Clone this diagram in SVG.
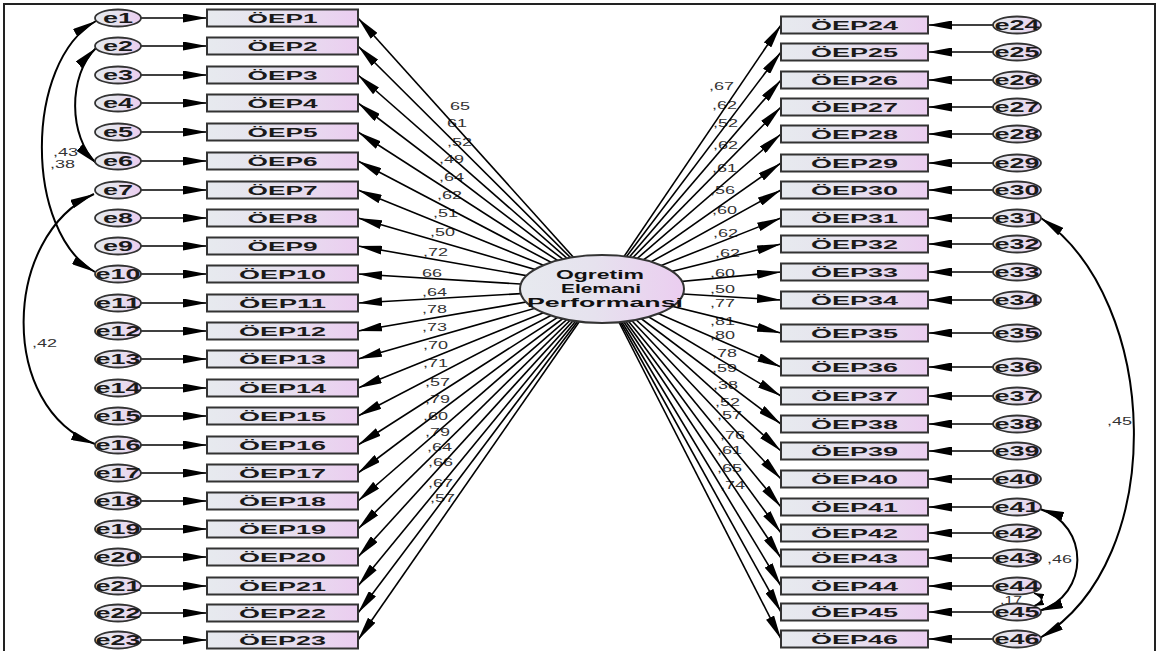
<svg xmlns="http://www.w3.org/2000/svg" width="1159" height="651" viewBox="0 0 1159 651">
  <defs>
    <linearGradient id="gFill" x1="0" y1="0" x2="1" y2="0">
      <stop offset="0" stop-color="#e7eaef"/>
      <stop offset="0.45" stop-color="#e6e2ee"/>
      <stop offset="1" stop-color="#ebcdf0"/>
    </linearGradient>
    <marker id="ah" viewBox="0 0 24 9" refX="24" refY="4.5" markerWidth="24" markerHeight="9" markerUnits="userSpaceOnUse" orient="auto-start-reverse">
      <path d="M0,0 L24,4.5 L0,9 z" fill="#000"/>
    </marker>
    <marker id="ahs" viewBox="0 0 10 6" refX="10" refY="3" markerWidth="10" markerHeight="6" markerUnits="userSpaceOnUse" orient="auto-start-reverse">
      <path d="M0,0 L10,3 L0,6 z" fill="#000"/>
    </marker>
  </defs>
  <style>
    .box { fill: url(#gFill); stroke: #333; stroke-width: 2; }
    .err { fill: url(#gFill); stroke: #333; stroke-width: 1.8; }
    .lat { fill: url(#gFill); stroke: #333; stroke-width: 2; }
    .bt { font-family: "Liberation Sans", Arial, sans-serif; font-weight: bold; font-size: 13px; fill: #1a1a1a; text-anchor: middle; }
    .et { font-family: "Liberation Sans", Arial, sans-serif; font-weight: bold; font-size: 14px; fill: #1a1a1a; text-anchor: middle; }
    .lt { font-family: "Liberation Sans", Arial, sans-serif; font-weight: bold; font-size: 12.5px; fill: #111; text-anchor: middle; }
    .lb { font-family: "Liberation Sans", Arial, sans-serif; font-size: 10px; fill: #333; }
    .ln { stroke: #000; stroke-width: 1.6; fill: none; marker-end: url(#ah); }
    .cv { stroke: #000; stroke-width: 2; fill: none; marker-start: url(#ah); marker-end: url(#ah); }
    .cvs { stroke: #000; stroke-width: 1.6; fill: none; marker-start: url(#ahs); marker-end: url(#ahs); }
  </style>

  <rect x="0" y="0" width="1159" height="651" fill="#fff"/>
  <rect x="4" y="4" width="1151" height="680" fill="none" stroke="#222" stroke-width="2"/>

  <!-- path coefficients and covariances -->
  <g id="labels" class="lb">
    <text x="450" y="109.5" textLength="20" lengthAdjust="spacingAndGlyphs">65</text>
    <text x="447" y="126.5" textLength="20" lengthAdjust="spacingAndGlyphs">61</text>
    <text x="447" y="145.5" textLength="25" lengthAdjust="spacingAndGlyphs">,52</text>
    <text x="439" y="162.5" textLength="25" lengthAdjust="spacingAndGlyphs">,49</text>
    <text x="439" y="180.5" textLength="25" lengthAdjust="spacingAndGlyphs">,64</text>
    <text x="437" y="198.5" textLength="25" lengthAdjust="spacingAndGlyphs">,62</text>
    <text x="433" y="216.5" textLength="25" lengthAdjust="spacingAndGlyphs">,51</text>
    <text x="430" y="235.5" textLength="25" lengthAdjust="spacingAndGlyphs">,50</text>
    <text x="423" y="255.5" textLength="25" lengthAdjust="spacingAndGlyphs">,72</text>
    <text x="422" y="276.5" textLength="20" lengthAdjust="spacingAndGlyphs">66</text>
    <text x="422" y="295.5" textLength="25" lengthAdjust="spacingAndGlyphs">,64</text>
    <text x="422" y="312.5" textLength="25" lengthAdjust="spacingAndGlyphs">,78</text>
    <text x="422" y="330.5" textLength="25" lengthAdjust="spacingAndGlyphs">,73</text>
    <text x="423" y="348.5" textLength="25" lengthAdjust="spacingAndGlyphs">,70</text>
    <text x="423" y="366.5" textLength="25" lengthAdjust="spacingAndGlyphs">,71</text>
    <text x="425" y="385.5" textLength="25" lengthAdjust="spacingAndGlyphs">,57</text>
    <text x="425" y="402.5" textLength="25" lengthAdjust="spacingAndGlyphs">,79</text>
    <text x="423" y="419.5" textLength="25" lengthAdjust="spacingAndGlyphs">,60</text>
    <text x="425" y="435.5" textLength="25" lengthAdjust="spacingAndGlyphs">,79</text>
    <text x="427" y="450.5" textLength="25" lengthAdjust="spacingAndGlyphs">,64</text>
    <text x="428" y="465.5" textLength="25" lengthAdjust="spacingAndGlyphs">,66</text>
    <text x="428" y="486.5" textLength="25" lengthAdjust="spacingAndGlyphs">,67</text>
    <text x="430" y="501.5" textLength="25" lengthAdjust="spacingAndGlyphs">,57</text>

    <text x="709" y="89.5" textLength="25" lengthAdjust="spacingAndGlyphs">,67</text>
    <text x="712" y="108.5" textLength="25" lengthAdjust="spacingAndGlyphs">,62</text>
    <text x="713" y="126.5" textLength="25" lengthAdjust="spacingAndGlyphs">,52</text>
    <text x="713" y="148.5" textLength="25" lengthAdjust="spacingAndGlyphs">,62</text>
    <text x="712" y="171.5" textLength="25" lengthAdjust="spacingAndGlyphs">,61</text>
    <text x="710" y="193.5" textLength="25" lengthAdjust="spacingAndGlyphs">,56</text>
    <text x="712" y="213.5" textLength="25" lengthAdjust="spacingAndGlyphs">,60</text>
    <text x="713" y="236.5" textLength="25" lengthAdjust="spacingAndGlyphs">,62</text>
    <text x="715" y="256.5" textLength="25" lengthAdjust="spacingAndGlyphs">,62</text>
    <text x="710" y="276.5" textLength="25" lengthAdjust="spacingAndGlyphs">,60</text>
    <text x="710" y="292.5" textLength="25" lengthAdjust="spacingAndGlyphs">,50</text>
    <text x="710" y="306.5" textLength="25" lengthAdjust="spacingAndGlyphs">,77</text>
    <text x="710" y="324.5" textLength="25" lengthAdjust="spacingAndGlyphs">,81</text>
    <text x="710" y="338.5" textLength="25" lengthAdjust="spacingAndGlyphs">,80</text>
    <text x="712" y="356.5" textLength="25" lengthAdjust="spacingAndGlyphs">,78</text>
    <text x="712" y="371.5" textLength="25" lengthAdjust="spacingAndGlyphs">,59</text>
    <text x="713" y="388.5" textLength="25" lengthAdjust="spacingAndGlyphs">,38</text>
    <text x="715" y="405.5" textLength="25" lengthAdjust="spacingAndGlyphs">,52</text>
    <text x="717" y="418.5" textLength="25" lengthAdjust="spacingAndGlyphs">,57</text>
    <text x="720" y="438.5" textLength="25" lengthAdjust="spacingAndGlyphs">,76</text>
    <text x="717" y="453.5" textLength="25" lengthAdjust="spacingAndGlyphs">,61</text>
    <text x="717" y="471.5" textLength="25" lengthAdjust="spacingAndGlyphs">,65</text>
    <text x="720" y="488.5" textLength="25" lengthAdjust="spacingAndGlyphs">,74</text>

    <text x="53" y="155.5" textLength="25" lengthAdjust="spacingAndGlyphs">,43</text>
    <text x="50" y="167.5" textLength="25" lengthAdjust="spacingAndGlyphs">,38</text>
    <text x="32" y="346.5" textLength="25" lengthAdjust="spacingAndGlyphs">,42</text>
    <text x="1107" y="424.5" textLength="25" lengthAdjust="spacingAndGlyphs">,45</text>
    <text x="1047" y="562.5" textLength="25" lengthAdjust="spacingAndGlyphs">,46</text>
    <text x="1000" y="603.5" textLength="22" lengthAdjust="spacingAndGlyphs">,17</text>
  </g>

  <g id="connectors">
    <!-- factor loadings, left column -->
    <g class="ln">
      <line x1="602" y1="289" x2="358" y2="18"/>
      <line x1="602" y1="289" x2="358" y2="46"/>
      <line x1="602" y1="289" x2="358" y2="75"/>
      <line x1="602" y1="289" x2="358" y2="103"/>
      <line x1="602" y1="289" x2="358" y2="132"/>
      <line x1="602" y1="289" x2="358" y2="161"/>
      <line x1="602" y1="289" x2="358" y2="190"/>
      <line x1="602" y1="289" x2="358" y2="218"/>
      <line x1="602" y1="289" x2="358" y2="246"/>
      <line x1="602" y1="289" x2="358" y2="274"/>
      <line x1="602" y1="289" x2="358" y2="303"/>
      <line x1="602" y1="289" x2="358" y2="331"/>
      <line x1="602" y1="289" x2="358" y2="359"/>
      <line x1="602" y1="289" x2="358" y2="388"/>
      <line x1="602" y1="289" x2="358" y2="416"/>
      <line x1="602" y1="289" x2="358" y2="445"/>
      <line x1="602" y1="289" x2="358" y2="473"/>
      <line x1="602" y1="289" x2="358" y2="501"/>
      <line x1="602" y1="289" x2="358" y2="529"/>
      <line x1="602" y1="289" x2="358" y2="557"/>
      <line x1="602" y1="289" x2="358" y2="586"/>
      <line x1="602" y1="289" x2="358" y2="613"/>
      <line x1="602" y1="289" x2="358" y2="640"/>
      <!-- factor loadings, right column -->
      <line x1="602" y1="289" x2="781" y2="25"/>
      <line x1="602" y1="289" x2="781" y2="52"/>
      <line x1="602" y1="289" x2="781" y2="80"/>
      <line x1="602" y1="289" x2="781" y2="107"/>
      <line x1="602" y1="289" x2="781" y2="134"/>
      <line x1="602" y1="289" x2="781" y2="163"/>
      <line x1="602" y1="289" x2="781" y2="190"/>
      <line x1="602" y1="289" x2="781" y2="218"/>
      <line x1="602" y1="289" x2="781" y2="244"/>
      <line x1="602" y1="289" x2="781" y2="272"/>
      <line x1="602" y1="289" x2="781" y2="300"/>
      <line x1="602" y1="289" x2="781" y2="333"/>
      <line x1="602" y1="289" x2="781" y2="367"/>
      <line x1="602" y1="289" x2="781" y2="396"/>
      <line x1="602" y1="289" x2="781" y2="424"/>
      <line x1="602" y1="289" x2="781" y2="451"/>
      <line x1="602" y1="289" x2="781" y2="479"/>
      <line x1="602" y1="289" x2="781" y2="507"/>
      <line x1="602" y1="289" x2="781" y2="533"/>
      <line x1="602" y1="289" x2="781" y2="558"/>
      <line x1="602" y1="289" x2="781" y2="586"/>
      <line x1="602" y1="289" x2="781" y2="612"/>
      <line x1="602" y1="289" x2="781" y2="639"/>
      <!-- error terms, left -->
      <line x1="141" y1="18" x2="207" y2="18"/>
      <line x1="141" y1="46" x2="207" y2="46"/>
      <line x1="141" y1="75" x2="207" y2="75"/>
      <line x1="141" y1="103" x2="207" y2="103"/>
      <line x1="141" y1="132" x2="207" y2="132"/>
      <line x1="141" y1="161" x2="207" y2="161"/>
      <line x1="141" y1="190" x2="207" y2="190"/>
      <line x1="141" y1="218" x2="207" y2="218"/>
      <line x1="141" y1="246" x2="207" y2="246"/>
      <line x1="141" y1="274" x2="207" y2="274"/>
      <line x1="141" y1="303" x2="207" y2="303"/>
      <line x1="141" y1="331" x2="207" y2="331"/>
      <line x1="141" y1="359" x2="207" y2="359"/>
      <line x1="141" y1="388" x2="207" y2="388"/>
      <line x1="141" y1="416" x2="207" y2="416"/>
      <line x1="141" y1="445" x2="207" y2="445"/>
      <line x1="141" y1="473" x2="207" y2="473"/>
      <line x1="141" y1="501" x2="207" y2="501"/>
      <line x1="141" y1="529" x2="207" y2="529"/>
      <line x1="141" y1="557" x2="207" y2="557"/>
      <line x1="141" y1="586" x2="207" y2="586"/>
      <line x1="141" y1="613" x2="207" y2="613"/>
      <line x1="141" y1="640" x2="207" y2="640"/>
      <!-- error terms, right -->
      <line x1="994" y1="25" x2="928" y2="25"/>
      <line x1="994" y1="52" x2="928" y2="52"/>
      <line x1="994" y1="80" x2="928" y2="80"/>
      <line x1="994" y1="107" x2="928" y2="107"/>
      <line x1="994" y1="134" x2="928" y2="134"/>
      <line x1="994" y1="163" x2="928" y2="163"/>
      <line x1="994" y1="190" x2="928" y2="190"/>
      <line x1="994" y1="218" x2="928" y2="218"/>
      <line x1="994" y1="244" x2="928" y2="244"/>
      <line x1="994" y1="272" x2="928" y2="272"/>
      <line x1="994" y1="300" x2="928" y2="300"/>
      <line x1="994" y1="333" x2="928" y2="333"/>
      <line x1="994" y1="367" x2="928" y2="367"/>
      <line x1="994" y1="396" x2="928" y2="396"/>
      <line x1="994" y1="424" x2="928" y2="424"/>
      <line x1="994" y1="451" x2="928" y2="451"/>
      <line x1="994" y1="479" x2="928" y2="479"/>
      <line x1="994" y1="507" x2="928" y2="507"/>
      <line x1="994" y1="533" x2="928" y2="533"/>
      <line x1="994" y1="558" x2="928" y2="558"/>
      <line x1="994" y1="586" x2="928" y2="586"/>
      <line x1="994" y1="612" x2="928" y2="612"/>
      <line x1="994" y1="639" x2="928" y2="639"/>
    </g>
    <!-- error covariances -->
    <path class="cv" d="M96,21 C24,62 24,232 95,272"/>
    <path class="cv" d="M96,48 C68,75 68,137 97,164"/>
    <path class="cv" d="M94,194 C2,236 -2,408 95,444"/>
    <path class="cv" d="M1041,218 C1160,300 1170,560 1040,638"/>
    <path class="cv" d="M1040,509 C1090,525 1090,595 1039,611"/>
    <path class="cvs" d="M1034,593 C1044,597 1044,602 1034,606"/>
  </g>

  <!-- latent factor -->
  <g id="OgretimElemaniPerformansi">
    <ellipse class="lat" cx="602" cy="289" rx="82" ry="34"/>
    <text class="lt" x="600" y="279" textLength="88" lengthAdjust="spacingAndGlyphs">Ogretim</text>
    <text class="lt" x="601" y="293" textLength="80" lengthAdjust="spacingAndGlyphs">Elemani</text>
    <text class="lt" x="605" y="307" textLength="156" lengthAdjust="spacingAndGlyphs">Performansi</text>
  </g>

  <!-- observed items, left column -->
  <g id="OEP1"><rect class="box" x="207" y="9.5" width="151" height="17"/><text class="bt" x="282.5" y="22.5" textLength="70" lengthAdjust="spacingAndGlyphs">ÖEP1</text></g>
  <g id="OEP2"><rect class="box" x="207" y="37.5" width="151" height="17"/><text class="bt" x="282.5" y="50.5" textLength="70" lengthAdjust="spacingAndGlyphs">ÖEP2</text></g>
  <g id="OEP3"><rect class="box" x="207" y="66.5" width="151" height="17"/><text class="bt" x="282.5" y="79.5" textLength="70" lengthAdjust="spacingAndGlyphs">ÖEP3</text></g>
  <g id="OEP4"><rect class="box" x="207" y="94.5" width="151" height="17"/><text class="bt" x="282.5" y="107.5" textLength="70" lengthAdjust="spacingAndGlyphs">ÖEP4</text></g>
  <g id="OEP5"><rect class="box" x="207" y="123.5" width="151" height="17"/><text class="bt" x="282.5" y="136.5" textLength="70" lengthAdjust="spacingAndGlyphs">ÖEP5</text></g>
  <g id="OEP6"><rect class="box" x="207" y="152.5" width="151" height="17"/><text class="bt" x="282.5" y="165.5" textLength="70" lengthAdjust="spacingAndGlyphs">ÖEP6</text></g>
  <g id="OEP7"><rect class="box" x="207" y="181.5" width="151" height="17"/><text class="bt" x="282.5" y="194.5" textLength="70" lengthAdjust="spacingAndGlyphs">ÖEP7</text></g>
  <g id="OEP8"><rect class="box" x="207" y="209.5" width="151" height="17"/><text class="bt" x="282.5" y="222.5" textLength="70" lengthAdjust="spacingAndGlyphs">ÖEP8</text></g>
  <g id="OEP9"><rect class="box" x="207" y="237.5" width="151" height="17"/><text class="bt" x="282.5" y="250.5" textLength="70" lengthAdjust="spacingAndGlyphs">ÖEP9</text></g>
  <g id="OEP10"><rect class="box" x="207" y="265.5" width="151" height="17"/><text class="bt" x="282.5" y="278.5" textLength="87" lengthAdjust="spacingAndGlyphs">ÖEP10</text></g>
  <g id="OEP11"><rect class="box" x="207" y="294.5" width="151" height="17"/><text class="bt" x="282.5" y="307.5" textLength="87" lengthAdjust="spacingAndGlyphs">ÖEP11</text></g>
  <g id="OEP12"><rect class="box" x="207" y="322.5" width="151" height="17"/><text class="bt" x="282.5" y="335.5" textLength="87" lengthAdjust="spacingAndGlyphs">ÖEP12</text></g>
  <g id="OEP13"><rect class="box" x="207" y="350.5" width="151" height="17"/><text class="bt" x="282.5" y="363.5" textLength="87" lengthAdjust="spacingAndGlyphs">ÖEP13</text></g>
  <g id="OEP14"><rect class="box" x="207" y="379.5" width="151" height="17"/><text class="bt" x="282.5" y="392.5" textLength="87" lengthAdjust="spacingAndGlyphs">ÖEP14</text></g>
  <g id="OEP15"><rect class="box" x="207" y="407.5" width="151" height="17"/><text class="bt" x="282.5" y="420.5" textLength="87" lengthAdjust="spacingAndGlyphs">ÖEP15</text></g>
  <g id="OEP16"><rect class="box" x="207" y="436.5" width="151" height="17"/><text class="bt" x="282.5" y="449.5" textLength="87" lengthAdjust="spacingAndGlyphs">ÖEP16</text></g>
  <g id="OEP17"><rect class="box" x="207" y="464.5" width="151" height="17"/><text class="bt" x="282.5" y="477.5" textLength="87" lengthAdjust="spacingAndGlyphs">ÖEP17</text></g>
  <g id="OEP18"><rect class="box" x="207" y="492.5" width="151" height="17"/><text class="bt" x="282.5" y="505.5" textLength="87" lengthAdjust="spacingAndGlyphs">ÖEP18</text></g>
  <g id="OEP19"><rect class="box" x="207" y="520.5" width="151" height="17"/><text class="bt" x="282.5" y="533.5" textLength="87" lengthAdjust="spacingAndGlyphs">ÖEP19</text></g>
  <g id="OEP20"><rect class="box" x="207" y="548.5" width="151" height="17"/><text class="bt" x="282.5" y="561.5" textLength="87" lengthAdjust="spacingAndGlyphs">ÖEP20</text></g>
  <g id="OEP21"><rect class="box" x="207" y="577.5" width="151" height="17"/><text class="bt" x="282.5" y="590.5" textLength="87" lengthAdjust="spacingAndGlyphs">ÖEP21</text></g>
  <g id="OEP22"><rect class="box" x="207" y="604.5" width="151" height="17"/><text class="bt" x="282.5" y="617.5" textLength="87" lengthAdjust="spacingAndGlyphs">ÖEP22</text></g>
  <g id="OEP23"><rect class="box" x="207" y="631.5" width="151" height="17"/><text class="bt" x="282.5" y="644.5" textLength="87" lengthAdjust="spacingAndGlyphs">ÖEP23</text></g>

  <!-- observed items, right column -->
  <g id="OEP24"><rect class="box" x="781" y="16.5" width="147" height="17"/><text class="bt" x="854.5" y="29.5" textLength="87" lengthAdjust="spacingAndGlyphs">ÖEP24</text></g>
  <g id="OEP25"><rect class="box" x="781" y="43.5" width="147" height="17"/><text class="bt" x="854.5" y="56.5" textLength="87" lengthAdjust="spacingAndGlyphs">ÖEP25</text></g>
  <g id="OEP26"><rect class="box" x="781" y="71.5" width="147" height="17"/><text class="bt" x="854.5" y="84.5" textLength="87" lengthAdjust="spacingAndGlyphs">ÖEP26</text></g>
  <g id="OEP27"><rect class="box" x="781" y="98.5" width="147" height="17"/><text class="bt" x="854.5" y="111.5" textLength="87" lengthAdjust="spacingAndGlyphs">ÖEP27</text></g>
  <g id="OEP28"><rect class="box" x="781" y="125.5" width="147" height="17"/><text class="bt" x="854.5" y="138.5" textLength="87" lengthAdjust="spacingAndGlyphs">ÖEP28</text></g>
  <g id="OEP29"><rect class="box" x="781" y="154.5" width="147" height="17"/><text class="bt" x="854.5" y="167.5" textLength="87" lengthAdjust="spacingAndGlyphs">ÖEP29</text></g>
  <g id="OEP30"><rect class="box" x="781" y="181.5" width="147" height="17"/><text class="bt" x="854.5" y="194.5" textLength="87" lengthAdjust="spacingAndGlyphs">ÖEP30</text></g>
  <g id="OEP31"><rect class="box" x="781" y="209.5" width="147" height="17"/><text class="bt" x="854.5" y="222.5" textLength="87" lengthAdjust="spacingAndGlyphs">ÖEP31</text></g>
  <g id="OEP32"><rect class="box" x="781" y="235.5" width="147" height="17"/><text class="bt" x="854.5" y="248.5" textLength="87" lengthAdjust="spacingAndGlyphs">ÖEP32</text></g>
  <g id="OEP33"><rect class="box" x="781" y="263.5" width="147" height="17"/><text class="bt" x="854.5" y="276.5" textLength="87" lengthAdjust="spacingAndGlyphs">ÖEP33</text></g>
  <g id="OEP34"><rect class="box" x="781" y="291.5" width="147" height="17"/><text class="bt" x="854.5" y="304.5" textLength="87" lengthAdjust="spacingAndGlyphs">ÖEP34</text></g>
  <g id="OEP35"><rect class="box" x="781" y="324.5" width="147" height="17"/><text class="bt" x="854.5" y="337.5" textLength="87" lengthAdjust="spacingAndGlyphs">ÖEP35</text></g>
  <g id="OEP36"><rect class="box" x="781" y="358.5" width="147" height="17"/><text class="bt" x="854.5" y="371.5" textLength="87" lengthAdjust="spacingAndGlyphs">ÖEP36</text></g>
  <g id="OEP37"><rect class="box" x="781" y="387.5" width="147" height="17"/><text class="bt" x="854.5" y="400.5" textLength="87" lengthAdjust="spacingAndGlyphs">ÖEP37</text></g>
  <g id="OEP38"><rect class="box" x="781" y="415.5" width="147" height="17"/><text class="bt" x="854.5" y="428.5" textLength="87" lengthAdjust="spacingAndGlyphs">ÖEP38</text></g>
  <g id="OEP39"><rect class="box" x="781" y="442.5" width="147" height="17"/><text class="bt" x="854.5" y="455.5" textLength="87" lengthAdjust="spacingAndGlyphs">ÖEP39</text></g>
  <g id="OEP40"><rect class="box" x="781" y="470.5" width="147" height="17"/><text class="bt" x="854.5" y="483.5" textLength="87" lengthAdjust="spacingAndGlyphs">ÖEP40</text></g>
  <g id="OEP41"><rect class="box" x="781" y="498.5" width="147" height="17"/><text class="bt" x="854.5" y="511.5" textLength="87" lengthAdjust="spacingAndGlyphs">ÖEP41</text></g>
  <g id="OEP42"><rect class="box" x="781" y="524.5" width="147" height="17"/><text class="bt" x="854.5" y="537.5" textLength="87" lengthAdjust="spacingAndGlyphs">ÖEP42</text></g>
  <g id="OEP43"><rect class="box" x="781" y="549.5" width="147" height="17"/><text class="bt" x="854.5" y="562.5" textLength="87" lengthAdjust="spacingAndGlyphs">ÖEP43</text></g>
  <g id="OEP44"><rect class="box" x="781" y="577.5" width="147" height="17"/><text class="bt" x="854.5" y="590.5" textLength="87" lengthAdjust="spacingAndGlyphs">ÖEP44</text></g>
  <g id="OEP45"><rect class="box" x="781" y="603.5" width="147" height="17"/><text class="bt" x="854.5" y="616.5" textLength="87" lengthAdjust="spacingAndGlyphs">ÖEP45</text></g>
  <g id="OEP46"><rect class="box" x="781" y="630.5" width="147" height="17"/><text class="bt" x="854.5" y="643.5" textLength="87" lengthAdjust="spacingAndGlyphs">ÖEP46</text></g>

  <!-- error terms, left column -->
  <g id="e1"><ellipse class="err" cx="118" cy="18" rx="23" ry="8.5"/><text class="et" x="118" y="23" textLength="30" lengthAdjust="spacingAndGlyphs">e1</text></g>
  <g id="e2"><ellipse class="err" cx="118" cy="46" rx="23" ry="8.5"/><text class="et" x="118" y="51" textLength="30" lengthAdjust="spacingAndGlyphs">e2</text></g>
  <g id="e3"><ellipse class="err" cx="118" cy="75" rx="23" ry="8.5"/><text class="et" x="118" y="80" textLength="30" lengthAdjust="spacingAndGlyphs">e3</text></g>
  <g id="e4"><ellipse class="err" cx="118" cy="103" rx="23" ry="8.5"/><text class="et" x="118" y="108" textLength="30" lengthAdjust="spacingAndGlyphs">e4</text></g>
  <g id="e5"><ellipse class="err" cx="118" cy="132" rx="23" ry="8.5"/><text class="et" x="118" y="137" textLength="30" lengthAdjust="spacingAndGlyphs">e5</text></g>
  <g id="e6"><ellipse class="err" cx="118" cy="161" rx="23" ry="8.5"/><text class="et" x="118" y="166" textLength="30" lengthAdjust="spacingAndGlyphs">e6</text></g>
  <g id="e7"><ellipse class="err" cx="118" cy="190" rx="23" ry="8.5"/><text class="et" x="118" y="195" textLength="30" lengthAdjust="spacingAndGlyphs">e7</text></g>
  <g id="e8"><ellipse class="err" cx="118" cy="218" rx="23" ry="8.5"/><text class="et" x="118" y="223" textLength="30" lengthAdjust="spacingAndGlyphs">e8</text></g>
  <g id="e9"><ellipse class="err" cx="118" cy="246" rx="23" ry="8.5"/><text class="et" x="118" y="251" textLength="30" lengthAdjust="spacingAndGlyphs">e9</text></g>
  <g id="e10"><ellipse class="err" cx="118" cy="274" rx="23" ry="8.5"/><text class="et" x="118" y="279" textLength="45" lengthAdjust="spacingAndGlyphs">e10</text></g>
  <g id="e11"><ellipse class="err" cx="118" cy="303" rx="23" ry="8.5"/><text class="et" x="118" y="308" textLength="45" lengthAdjust="spacingAndGlyphs">e11</text></g>
  <g id="e12"><ellipse class="err" cx="118" cy="331" rx="23" ry="8.5"/><text class="et" x="118" y="336" textLength="45" lengthAdjust="spacingAndGlyphs">e12</text></g>
  <g id="e13"><ellipse class="err" cx="118" cy="359" rx="23" ry="8.5"/><text class="et" x="118" y="364" textLength="45" lengthAdjust="spacingAndGlyphs">e13</text></g>
  <g id="e14"><ellipse class="err" cx="118" cy="388" rx="23" ry="8.5"/><text class="et" x="118" y="393" textLength="45" lengthAdjust="spacingAndGlyphs">e14</text></g>
  <g id="e15"><ellipse class="err" cx="118" cy="416" rx="23" ry="8.5"/><text class="et" x="118" y="421" textLength="45" lengthAdjust="spacingAndGlyphs">e15</text></g>
  <g id="e16"><ellipse class="err" cx="118" cy="445" rx="23" ry="8.5"/><text class="et" x="118" y="450" textLength="45" lengthAdjust="spacingAndGlyphs">e16</text></g>
  <g id="e17"><ellipse class="err" cx="118" cy="473" rx="23" ry="8.5"/><text class="et" x="118" y="478" textLength="45" lengthAdjust="spacingAndGlyphs">e17</text></g>
  <g id="e18"><ellipse class="err" cx="118" cy="501" rx="23" ry="8.5"/><text class="et" x="118" y="506" textLength="45" lengthAdjust="spacingAndGlyphs">e18</text></g>
  <g id="e19"><ellipse class="err" cx="118" cy="529" rx="23" ry="8.5"/><text class="et" x="118" y="534" textLength="45" lengthAdjust="spacingAndGlyphs">e19</text></g>
  <g id="e20"><ellipse class="err" cx="118" cy="557" rx="23" ry="8.5"/><text class="et" x="118" y="562" textLength="45" lengthAdjust="spacingAndGlyphs">e20</text></g>
  <g id="e21"><ellipse class="err" cx="118" cy="586" rx="23" ry="8.5"/><text class="et" x="118" y="591" textLength="45" lengthAdjust="spacingAndGlyphs">e21</text></g>
  <g id="e22"><ellipse class="err" cx="118" cy="613" rx="23" ry="8.5"/><text class="et" x="118" y="618" textLength="45" lengthAdjust="spacingAndGlyphs">e22</text></g>
  <g id="e23"><ellipse class="err" cx="118" cy="640" rx="23" ry="8.5"/><text class="et" x="118" y="645" textLength="45" lengthAdjust="spacingAndGlyphs">e23</text></g>

  <!-- error terms, right column -->
  <g id="e24"><ellipse class="err" cx="1017" cy="25" rx="24" ry="8.5"/><text class="et" x="1017" y="30" textLength="45" lengthAdjust="spacingAndGlyphs">e24</text></g>
  <g id="e25"><ellipse class="err" cx="1017" cy="52" rx="24" ry="8.5"/><text class="et" x="1017" y="57" textLength="45" lengthAdjust="spacingAndGlyphs">e25</text></g>
  <g id="e26"><ellipse class="err" cx="1017" cy="80" rx="24" ry="8.5"/><text class="et" x="1017" y="85" textLength="45" lengthAdjust="spacingAndGlyphs">e26</text></g>
  <g id="e27"><ellipse class="err" cx="1017" cy="107" rx="24" ry="8.5"/><text class="et" x="1017" y="112" textLength="45" lengthAdjust="spacingAndGlyphs">e27</text></g>
  <g id="e28"><ellipse class="err" cx="1017" cy="134" rx="24" ry="8.5"/><text class="et" x="1017" y="139" textLength="45" lengthAdjust="spacingAndGlyphs">e28</text></g>
  <g id="e29"><ellipse class="err" cx="1017" cy="163" rx="24" ry="8.5"/><text class="et" x="1017" y="168" textLength="45" lengthAdjust="spacingAndGlyphs">e29</text></g>
  <g id="e30"><ellipse class="err" cx="1017" cy="190" rx="24" ry="8.5"/><text class="et" x="1017" y="195" textLength="45" lengthAdjust="spacingAndGlyphs">e30</text></g>
  <g id="e31"><ellipse class="err" cx="1017" cy="218" rx="24" ry="8.5"/><text class="et" x="1017" y="223" textLength="45" lengthAdjust="spacingAndGlyphs">e31</text></g>
  <g id="e32"><ellipse class="err" cx="1017" cy="244" rx="24" ry="8.5"/><text class="et" x="1017" y="249" textLength="45" lengthAdjust="spacingAndGlyphs">e32</text></g>
  <g id="e33"><ellipse class="err" cx="1017" cy="272" rx="24" ry="8.5"/><text class="et" x="1017" y="277" textLength="45" lengthAdjust="spacingAndGlyphs">e33</text></g>
  <g id="e34"><ellipse class="err" cx="1017" cy="300" rx="24" ry="8.5"/><text class="et" x="1017" y="305" textLength="45" lengthAdjust="spacingAndGlyphs">e34</text></g>
  <g id="e35"><ellipse class="err" cx="1017" cy="333" rx="24" ry="8.5"/><text class="et" x="1017" y="338" textLength="45" lengthAdjust="spacingAndGlyphs">e35</text></g>
  <g id="e36"><ellipse class="err" cx="1017" cy="367" rx="24" ry="8.5"/><text class="et" x="1017" y="372" textLength="45" lengthAdjust="spacingAndGlyphs">e36</text></g>
  <g id="e37"><ellipse class="err" cx="1017" cy="396" rx="24" ry="8.5"/><text class="et" x="1017" y="401" textLength="45" lengthAdjust="spacingAndGlyphs">e37</text></g>
  <g id="e38"><ellipse class="err" cx="1017" cy="424" rx="24" ry="8.5"/><text class="et" x="1017" y="429" textLength="45" lengthAdjust="spacingAndGlyphs">e38</text></g>
  <g id="e39"><ellipse class="err" cx="1017" cy="451" rx="24" ry="8.5"/><text class="et" x="1017" y="456" textLength="45" lengthAdjust="spacingAndGlyphs">e39</text></g>
  <g id="e40"><ellipse class="err" cx="1017" cy="479" rx="24" ry="8.5"/><text class="et" x="1017" y="484" textLength="45" lengthAdjust="spacingAndGlyphs">e40</text></g>
  <g id="e41"><ellipse class="err" cx="1017" cy="507" rx="24" ry="8.5"/><text class="et" x="1017" y="512" textLength="45" lengthAdjust="spacingAndGlyphs">e41</text></g>
  <g id="e42"><ellipse class="err" cx="1017" cy="533" rx="24" ry="8.5"/><text class="et" x="1017" y="538" textLength="45" lengthAdjust="spacingAndGlyphs">e42</text></g>
  <g id="e43"><ellipse class="err" cx="1017" cy="558" rx="24" ry="8.5"/><text class="et" x="1017" y="563" textLength="45" lengthAdjust="spacingAndGlyphs">e43</text></g>
  <g id="e44"><ellipse class="err" cx="1017" cy="586" rx="24" ry="8.5"/><text class="et" x="1017" y="591" textLength="45" lengthAdjust="spacingAndGlyphs">e44</text></g>
  <g id="e45"><ellipse class="err" cx="1017" cy="612" rx="24" ry="8.5"/><text class="et" x="1017" y="617" textLength="45" lengthAdjust="spacingAndGlyphs">e45</text></g>
  <g id="e46"><ellipse class="err" cx="1017" cy="639" rx="24" ry="8.5"/><text class="et" x="1017" y="644" textLength="45" lengthAdjust="spacingAndGlyphs">e46</text></g>
</svg>
